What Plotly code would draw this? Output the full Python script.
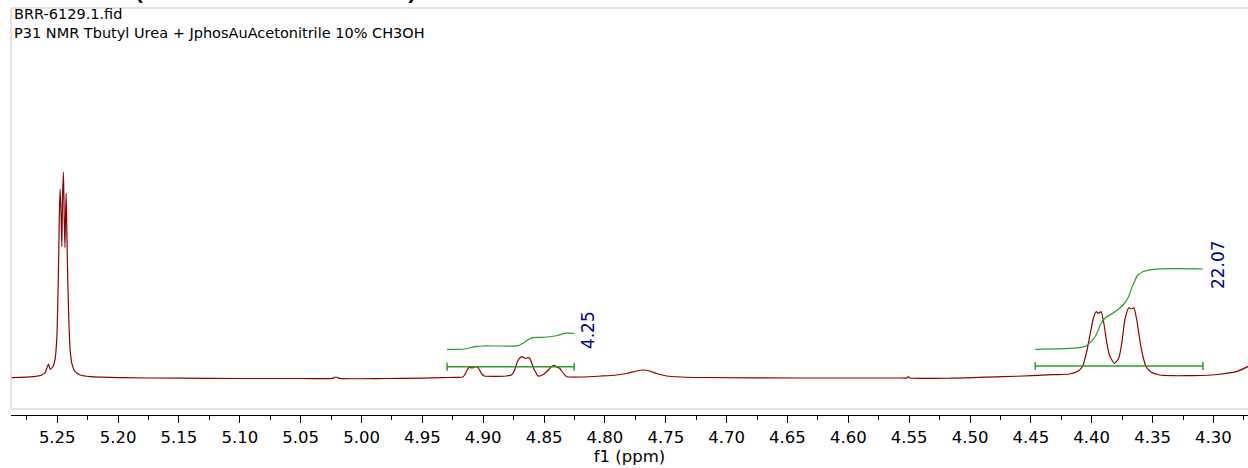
import plotly.graph_objects as go

# ---- data ----
ppm = [5.2874, 5.2696, 5.2627, 5.2600, 5.2586, 5.2572, 5.2558, 5.2536, 5.2517, 5.2503,
       5.2495, 5.2487, 5.2482, 5.2476, 5.2468, 5.2462, 5.2457, 5.2449, 5.2443, 5.2437,
       5.2432, 5.2427, 5.2421, 5.2413, 5.2404, 5.2394, 5.2380, 5.2353, 5.2311, 5.2229,
       5.1982, 5.1500, 5.1000, 5.0500, 5.0240, 5.0211, 5.0180, 4.9800, 4.9500, 4.9346,
       4.9222, 4.9167, 4.9148, 4.9132, 4.9115, 4.9091, 4.9066, 4.9044, 4.9025, 4.9009,
       4.8990, 4.8893, 4.8811, 4.8769, 4.8745, 4.8720, 4.8695, 4.8679, 4.8654, 4.8634,
       4.8619, 4.8601, 4.8580, 4.8564, 4.8549, 4.8506, 4.8473, 4.8444, 4.8418, 4.8395,
       4.8372, 4.8350, 4.8329, 4.8311, 4.8193, 4.8028, 4.7905, 4.7822, 4.7740, 4.7685,
       4.7633, 4.7576, 4.7493, 4.7370, 4.7205, 4.6382, 4.5558, 4.5517, 4.5509, 4.5492,
       4.5146, 4.4735, 4.4488, 4.4323, 4.4184, 4.4118, 4.4077, 4.4044, 4.4011, 4.3986,
       4.3964, 4.3944, 4.3923, 4.3901, 4.3876, 4.3852, 4.3813, 4.3778, 4.3753, 4.3728,
       4.3695, 4.3675, 4.3654, 4.3630, 4.3601, 4.3576, 4.3553, 4.3514, 4.3443, 4.3333,
       4.3226, 4.3086, 4.2962, 4.2814, 4.2690]
intensity = [0.3, 1.3, 3.0, 5.3, 9.7, 14.0, 8.7, 11.3, 19.7, 41.3,
             78, 128, 168, 188.7, 161.3, 131.3, 178, 206, 161.3, 130.3,
             161.3, 184.7, 145, 95, 55, 28, 14.7, 6.3, 3.0, 1.3,
             0.3, -0.2, -0.5, -0.5, -0.4, 1.0, -0.4, -0.5, -0.2, 0.3,
             0.7, 1.0, 4.0, 8.0, 10.7, 10.0, 11.3, 10.5, 7.0, 3.5,
             2.0, 1.7, 2.0, 3.0, 7.0, 16.0, 20.5, 21.3, 19.5, 20.3,
             20.0, 15.0, 8.0, 4.7, 2.0, 3.5, 7.0, 11.0, 12.7, 11.0,
             9.7, 6.0, 3.0, 1.3, 1.0, 2.0, 3.0, 4.5, 7.0, 8.0,
             7.0, 4.5, 2.0, 1.0, 0.5, 0.0, 0.0, 0.0, 1.3, 0.0,
             -0.2, 1.3, 2.3, 3.3, 4.0, 6.5, 11.3, 25, 45, 60,
             66.3, 64.7, 66.3, 55, 35, 22, 14.7, 20, 35, 58,
             70.3, 69, 70.3, 58, 35, 20, 11.3, 6.0, 3.0, 2.3,
             2.3, 2.5, 3.5, 6.3, 13.0]

# integral curves
int1_ppm = [4.9297, 4.9222, 4.9157, 4.9099, 4.9049, 4.9003, 4.8852, 4.8714, 4.8671,
            4.8629, 4.8591, 4.8522, 4.8440, 4.8390, 4.8333, 4.8253]
int1_val = [28.7, 28.7, 29.0, 30.5, 31.7, 32.0, 32.0, 32.3, 35.0,
            38.5, 40.3, 40.7, 41.5, 42.5, 44.7, 44.7]
int2_ppm = [4.4464, 4.4239, 4.4101, 4.4046, 4.4006, 4.3964, 4.3923, 4.3882, 4.3827,
            4.3772, 4.3739, 4.3703, 4.3662, 4.3621, 4.3580, 4.3498, 4.3086]
int2_val = [28.7, 29.3, 30.3, 32.0, 36.3, 43.0, 54.7, 60.7, 64.7,
            69.7, 73.5, 80.0, 92.7, 103.0, 106.3, 108.7, 109.0]

# integration regions: (start, end, bar level, label, label ppm, label level)
regions = [(4.9297, 4.8253, 11.3, "4.25", 4.8138, 48),
           (4.4464, 4.3086, 12.0, "22.07", 4.2962, 113)]

tick_vals = [5.25, 5.20, 5.15, 5.10, 5.05, 5.00, 4.95, 4.90, 4.85, 4.80, 4.75, 4.70,
             4.65, 4.60, 4.55, 4.50, 4.45, 4.40, 4.35, 4.30]
tick_text = ["5.25", "5.20", "5.15", "5.10", "5.05", "5.00", "4.95", "4.90", "4.85", "4.80",
             "4.75", "4.70", "4.65", "4.60", "4.55", "4.50", "4.45", "4.40", "4.35", "4.30"]

header_lines = ["BRR-6129.1.fid", "P31 NMR Tbutyl Urea + JphosAuAcetonitrile 10% CH3OH"]

FONT = "DejaVu Sans"
SPEC = "#8b0000"
GREEN = "#2e9a2e"
NAVY = "#00008b"

fig = go.Figure()
fig.add_trace(go.Scatter(x=ppm, y=intensity, mode="lines",
                         line=dict(color=SPEC, width=1.2, shape="spline", smoothing=0.6),
                         hoverinfo="skip", showlegend=False))
fig.add_trace(go.Scatter(x=int1_ppm, y=int1_val, mode="lines",
                         line=dict(color=GREEN, width=1.2, shape="spline", smoothing=0.8),
                         showlegend=False))
fig.add_trace(go.Scatter(x=int2_ppm, y=int2_val, mode="lines",
                         line=dict(color=GREEN, width=1.2, shape="spline", smoothing=0.8),
                         showlegend=False))

for (a, b, lvl, lab, lx, ly) in regions:
    fig.add_trace(go.Scatter(x=[a, b], y=[lvl, lvl], mode="lines",
                             line=dict(color=GREEN, width=1.5), showlegend=False))
    for e in (a, b):
        fig.add_trace(go.Scatter(x=[e, e], y=[lvl - 4, lvl + 4], mode="lines",
                                 line=dict(color=GREEN, width=1.5), showlegend=False))
    fig.add_annotation(x=lx, y=ly, xref="x", yref="y", text=lab, showarrow=False,
                       textangle=-90, font=dict(family=FONT, size=17, color=NAVY))

# frame
fig.add_shape(type="rect", xref="paper", yref="paper", x0=0, x1=1.01, y0=0.0147, y1=1,
              line=dict(color="#c8c8c8", width=1), fillcolor="rgba(0,0,0,0)", layer="below")

# header
fig.add_annotation(xref="paper", yref="paper", x=0, y=0.98526, xshift=1, xanchor="left",
                   yanchor="middle", text=header_lines[0], showarrow=False,
                   font=dict(family=FONT, size=14.5, color="black"))
fig.add_annotation(xref="paper", yref="paper", x=0, y=0.93857, xshift=1, xanchor="left",
                   yanchor="middle", text=header_lines[1], showarrow=False,
                   font=dict(family=FONT, size=14.5, color="black"))
# clipped large title parentheses at the very top
fig.add_annotation(xref="paper", yref="paper", x=(138 - 11) / 1237, y=0.9975, xanchor="center",
                   yanchor="bottom", text="(", showarrow=False,
                   font=dict(family=FONT, size=34, color="black"))
fig.add_annotation(xref="paper", yref="paper", x=(412 - 11) / 1237, y=0.9975, xanchor="center",
                   yanchor="bottom", text=")", showarrow=False,
                   font=dict(family=FONT, size=34, color="black"))

fig.update_layout(
    width=1248, height=468,
    margin=dict(l=11, r=0, t=8, b=53),
    paper_bgcolor="white", plot_bgcolor="white",
    showlegend=False,
    xaxis=dict(range=[5.288, 4.2716], tickvals=tick_vals, ticktext=tick_text,
               ticks="outside", ticklen=7, tickwidth=1, tickcolor="black",
               showline=True, linecolor="black", linewidth=1.3, showgrid=False,
               zeroline=False, tickfont=dict(family=FONT, size=16.5, color="black"),
               minor=dict(ticks="outside", ticklen=4, tickcolor="black", tickwidth=1,
                          dtick=0.025, tick0=4.3, showgrid=False),
               title=dict(text="f1 (ppm)", font=dict(family=FONT, size=16.5, color="black"),
                          standoff=2)),
    yaxis=dict(range=[-37, 370], visible=False, showgrid=False, zeroline=False),
)

fig.write_html("out.html")
